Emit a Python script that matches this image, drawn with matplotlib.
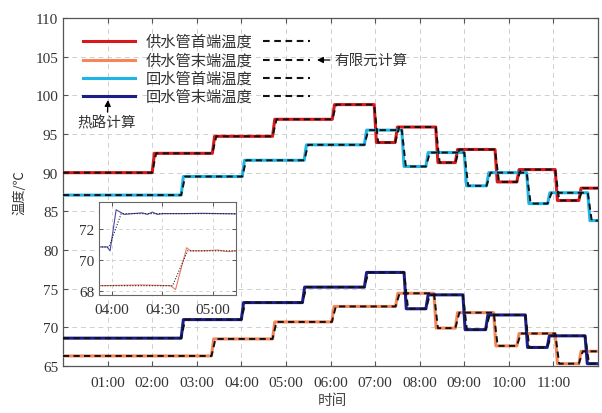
import matplotlib
matplotlib.use("Agg")
import matplotlib.pyplot as plt
from matplotlib.ticker import FixedLocator

# ---- data (hours since 00:00, temperature in degC) ----
supply_head_t = [2.0, 3.35, 4.7, 6.04, 6.98, 7.45, 8.36, 8.8, 9.69, 10.18, 11.04, 11.57]
supply_head_v = [90.0, 92.5, 94.7, 96.9, 98.8, 93.9, 95.9, 91.3, 93.0, 88.8, 90.4, 86.4, 88.0]

supply_end_t = [3.33, 4.7, 6.03, 7.46, 8.32, 8.8, 9.66, 10.18, 11.04, 11.57]
supply_end_v = [66.3, 68.5, 70.7, 72.7, 74.4, 69.9, 71.9, 67.6, 69.2, 65.3, 66.9]

return_head_t = [2.65, 4.02, 5.41, 6.76, 7.6, 8.14, 9.0, 9.5, 10.4, 10.87, 11.77]
return_head_v = [87.1, 89.5, 91.6, 93.6, 95.5, 90.8, 92.6, 88.3, 90.0, 86.0, 87.4, 83.8]

return_end_t = [2.65, 4.0, 5.37, 6.76, 7.65, 8.14, 8.97, 9.48, 10.37, 10.86, 11.71]
return_end_v = [68.6, 71.0, 73.2, 75.2, 77.1, 72.4, 74.2, 69.7, 71.6, 67.4, 68.9, 65.3]

# zoomed detail 03:52 - 05:14
inset_ret_t = [3.87, 3.95, 3.98, 4.04, 4.08, 4.12, 4.2, 4.3, 4.35, 4.4, 4.45, 4.5, 4.55, 4.7, 4.9, 5.23]
inset_ret_v = [70.85, 70.85, 70.6, 73.25, 73.1, 72.95, 73.0, 73.05, 72.95, 73.1, 72.95, 73.0, 73.0, 73.0, 73.02, 72.98]
inset_ret_fem_t = [3.87, 3.97, 4.09, 5.23]
inset_ret_fem_v = [70.85, 70.85, 73.0, 73.0]

inset_sup_t = [3.87, 4.3, 4.58, 4.63, 4.74, 4.78, 4.9, 5.05, 5.15, 5.23]
inset_sup_v = [68.35, 68.4, 68.35, 68.1, 70.8, 70.6, 70.6, 70.65, 70.55, 70.6]
inset_sup_fem_t = [3.87, 4.6, 4.75, 5.23]
inset_sup_fem_v = [68.35, 68.35, 70.6, 70.6]

xtick_pos = list(range(1, 12))
xtick_labels = ["%02d:00" % h for h in xtick_pos]
inset_xtick_pos = [4.0, 4.5, 5.0]
inset_xtick_labels = ["04:00", "04:30", "05:00"]

series_names = ["供水管首端温度", "供水管末端温度", "回水管首端温度", "回水管末端温度"]
colors = ["#d7191c", "#f4865a", "#1fb4e6", "#1c1c8c"]

cjk = ["Noto Sans CJK SC", "DejaVu Sans"]
plt.rcParams["font.family"] = ["Liberation Serif", "DejaVu Serif"]
plt.rcParams["xtick.direction"] = "in"
plt.rcParams["ytick.direction"] = "in"


def step_path(times, levels, t0=0.0, t1=12.0, ramp=0.06):
    xs, ys = [t0], [levels[0]]
    for t, a, b in zip(times, levels[:-1], levels[1:]):
        xs += [t, t + ramp]
        ys += [a, b]
    xs.append(t1)
    ys.append(levels[-1])
    return xs, ys


fig = plt.figure(figsize=(6.02, 4.14), dpi=100)
W, H = 602, 414
L, R, T, B = 63, 598, 19, 367
ax = fig.add_axes([L / W, 1 - B / H, (R - L) / W, (B - T) / H])

series = [
    (supply_head_t, supply_head_v),
    (supply_end_t, supply_end_v),
    (return_head_t, return_head_v),
    (return_end_t, return_end_v),
]
for (t, v), c in zip(series, colors):
    xs, ys = step_path(t, v, ramp=0.05)
    ax.plot(xs, ys, color=c, lw=2.2, solid_joinstyle="round", zorder=3)
for t, v in series:
    xs, ys = step_path(t, v, ramp=0.09)
    ax.plot(xs, ys, color="#111111", lw=1.4, ls=(0, (3.2, 2.2)), zorder=4)

ax.set_xlim(0, 12)
ax.set_ylim(65, 110)
ax.xaxis.set_major_locator(FixedLocator(xtick_pos))
ax.set_xticklabels(xtick_labels)
ax.set_yticks(range(65, 111, 5))
ax.tick_params(labelsize=11, colors="#555555", labelcolor="#333333",
               top=True, right=True, length=3.5, width=0.8)
ax.tick_params(axis="x", pad=7)
ax.grid(True, color="#cfcfcf", ls=(0, (5, 4)), lw=0.7)
for s in ax.spines.values():
    s.set_color("#555555")
    s.set_linewidth(0.9)

ax.set_ylabel("温度/℃", family=cjk, fontsize=9.5, color="#333333", labelpad=6)
ax.set_xlabel("时间", family=cjk, fontsize=10.5, color="#444444")
ax.xaxis.set_label_coords((332 - L) / (R - L), (B - 394) / (B - T))


def axc(px, py):
    return ((px - L) / (R - L), (B - py) / (B - T))


# legend drawn by hand (MATLAB style with two columns of line samples)
rows = [42, 61, 79, 97]
for name, c, py in zip(series_names, colors, rows):
    x0, y0 = axc(83, py)
    x1, _ = axc(135, py)
    ax.plot([x0, x1], [y0, y0], color=c, lw=2.2, transform=ax.transAxes, zorder=6)
    tx, _ = axc(146, py)
    ax.text(tx, y0, name, family=cjk, fontsize=11, color="#333333",
            va="center", ha="left", transform=ax.transAxes)
    d0, _ = axc(263, py)
    d1, _ = axc(310, py)
    ax.plot([d0, d1], [y0, y0], color="#111111", lw=1.5, ls=(0, (3.2, 2.2)),
            transform=ax.transAxes, zorder=6)

ax.annotate("有限元计算", xy=axc(317, 61), xytext=axc(334, 61),
            xycoords="axes fraction", textcoords="axes fraction",
            family=cjk, fontsize=10.5, color="#333333", va="center", ha="left",
            arrowprops=dict(arrowstyle="-|>", color="black", lw=0.9,
                            mutation_scale=9, shrinkA=1, shrinkB=0))
ax.annotate("热路计算", xy=axc(108, 101), xytext=axc(107, 123),
            xycoords="axes fraction", textcoords="axes fraction",
            family=cjk, fontsize=10.5, color="#333333", va="center", ha="center",
            arrowprops=dict(arrowstyle="-|>", color="black", lw=0.9,
                            mutation_scale=9, shrinkA=0, shrinkB=0))

# inset
IL, IR, IT, IB = 99, 236, 203, 296
ins = fig.add_axes([IL / W, 1 - IB / H, (IR - IL) / W, (IB - IT) / H])
ins.plot(inset_ret_t, inset_ret_v, color="#4a4aa8", lw=0.8)
ins.plot(inset_ret_fem_t, inset_ret_fem_v, color="#222222", lw=0.8, ls=(0, (1, 1.5)))
ins.plot(inset_sup_t, inset_sup_v, color="#ec7a64", lw=0.8)
ins.plot(inset_sup_fem_t, inset_sup_fem_v, color="#222222", lw=0.8, ls=(0, (1, 1.5)))
ins.set_xlim(3.87, 5.23)
ins.set_ylim(67.75, 73.75)
ins.set_xticks(inset_xtick_pos)
ins.set_xticklabels(inset_xtick_labels)
ins.set_yticks([68, 70, 72])
ins.tick_params(labelsize=11, colors="#555555", labelcolor="#333333",
                top=True, right=True, length=3, width=0.7)
ins.tick_params(axis="x", pad=6)
ins.grid(True, color="#cccccc", ls=(0, (4, 4)), lw=0.6)
for s in ins.spines.values():
    s.set_color("#666666")
    s.set_linewidth(0.8)

fig.savefig("out.png", dpi=100)
